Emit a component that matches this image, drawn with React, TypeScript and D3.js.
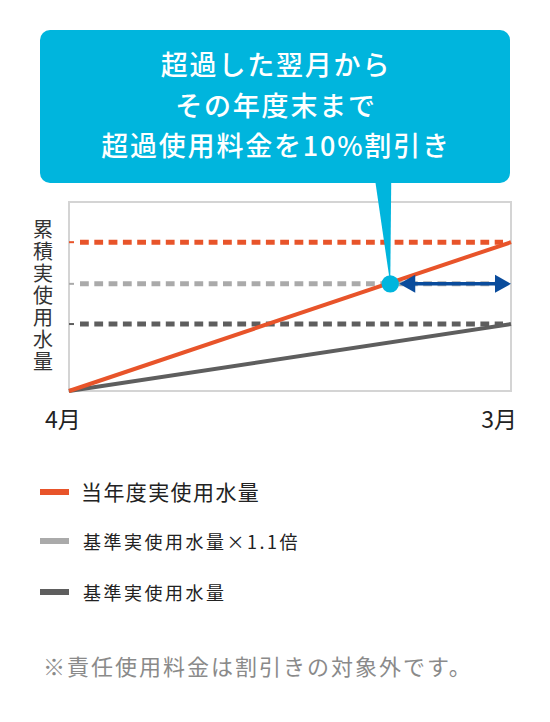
import { useRef, useEffect } from 'react';
import * as d3 from 'd3';

// fiscal year runs April -> March, index is months elapsed
const periodLabels = ['4月', '3月'];
const periodIndex = [0, 11];
const currentUsage = [0, 100];
const baseUsage = [0, 45];

const levelNames = ['当年度実使用水量', '基準実使用水量×1.1倍', '基準実使用水量'];
const levelValues = [100, 72, 45];
const levelColors = ['#e8542a', '#aaaaaa', '#5e5e5e'];

const yMax = 127;
const yTitle = '累積実使用水量';
const calloutLines = ['超過した翌月から', 'その年度末まで', '超過使用料金を10%割引き'];
const footnote = '※責任使用料金は割引きの対象外です。';

const FONT = "'Noto Sans CJK JP', 'Noto Sans', sans-serif";

const App = () => {
  const svgRef = useRef<SVGSVGElement>(null);

  useEffect(() => {
    if (!svgRef.current) return;

    const width = 550;
    const height = 722;
    const plotLeft = 69;
    const plotRight = 511;
    const plotTop = 202;
    const plotBottom = 391;

    const svg = d3
      .select(svgRef.current)
      .attr('width', width)
      .attr('height', height)
      .attr('viewBox', [0, 0, width, height])
      .style('font-family', FONT);

    svg.selectAll('*').remove();

    const xScale = d3.scaleLinear().domain([0, 11]).range([plotLeft, plotRight]);
    const yScale = d3.scaleLinear().domain([0, yMax]).range([plotBottom, plotTop]);

    // frame
    svg
      .append('rect')
      .attr('x', plotLeft)
      .attr('y', plotTop)
      .attr('width', plotRight - plotLeft)
      .attr('height', plotBottom - plotTop)
      .attr('fill', 'none')
      .attr('stroke', '#d4d4d4')
      .attr('stroke-width', 2);

    // reference levels: small tick + dashed line
    levelValues.forEach((v, i) => {
      const y = yScale(v);
      svg
        .append('line')
        .attr('x1', plotLeft)
        .attr('x2', plotLeft + 5)
        .attr('y1', y)
        .attr('y2', y)
        .attr('stroke', levelColors[i])
        .attr('stroke-width', 2);
      svg
        .append('line')
        .attr('x1', plotLeft + 11)
        .attr('x2', plotRight - 8)
        .attr('y1', y)
        .attr('y2', y)
        .attr('stroke', levelColors[i])
        .attr('stroke-width', 5)
        .attr('stroke-dasharray', '8.8,5.5');
    });

    const line = d3
      .line<number>()
      .x((_, i) => xScale(periodIndex[i]))
      .y((d) => yScale(d));

    svg
      .append('path')
      .datum(baseUsage)
      .attr('d', line)
      .attr('fill', 'none')
      .attr('stroke', levelColors[2])
      .attr('stroke-width', 4);

    svg
      .append('path')
      .datum(currentUsage)
      .attr('d', line)
      .attr('fill', 'none')
      .attr('stroke', levelColors[0])
      .attr('stroke-width', 4);

    // x labels
    svg
      .append('text')
      .attr('x', xScale(periodIndex[0]) - 24)
      .attr('y', 428)
      .attr('font-size', 23)
      .attr('fill', '#222')
      .text(periodLabels[0]);
    svg
      .append('text')
      .attr('x', xScale(periodIndex[1]) + 6)
      .attr('y', 428)
      .attr('text-anchor', 'end')
      .attr('font-size', 23)
      .attr('fill', '#222')
      .text(periodLabels[1]);

    // vertical y title
    svg
      .append('text')
      .attr('x', 43)
      .attr('y', 219)
      .style('writing-mode', 'vertical-rl')
      .attr('font-size', 20)
      .attr('letter-spacing', 2)
      .attr('fill', '#333')
      .text(yTitle);

    // callout
    const hit = (levelValues[1] / currentUsage[1]) * periodIndex[1];
    const hx = xScale(hit) + 3;
    const hy = yScale(levelValues[1]);

    svg
      .append('rect')
      .attr('x', 40)
      .attr('y', 30)
      .attr('width', 470)
      .attr('height', 153)
      .attr('rx', 10)
      .attr('fill', '#00b5dd');
    svg
      .append('path')
      .attr('d', `M${hx - 15},181 L${hx + 1},181 L${hx},${hy} Z`)
      .attr('fill', '#00b5dd');

    svg
      .append('g')
      .selectAll('text')
      .data(calloutLines)
      .enter()
      .append('text')
      .attr('x', 276)
      .attr('y', (_, i) => 75 + i * 40.5)
      .attr('text-anchor', 'middle')
      .attr('font-size', 27)
      .attr('font-weight', 500)
      .attr('letter-spacing', 1.8)
      .attr('fill', '#fff')
      .text((d) => d);

    // duration arrow
    const arrowColor = '#0a4c9c';
    const ax1 = hx + 9;
    const ax2 = plotRight;
    svg
      .append('line')
      .attr('x1', ax1 + 10)
      .attr('x2', ax2 - 10)
      .attr('y1', hy)
      .attr('y2', hy)
      .attr('stroke', arrowColor)
      .attr('stroke-width', 3.5);
    svg
      .append('path')
      .attr('d', `M${ax1},${hy} L${ax1 + 16},${hy - 9} L${ax1 + 16},${hy + 9} Z`)
      .attr('fill', arrowColor);
    svg
      .append('path')
      .attr('d', `M${ax2},${hy} L${ax2 - 16},${hy - 9} L${ax2 - 16},${hy + 9} Z`)
      .attr('fill', arrowColor);

    svg
      .append('circle')
      .attr('cx', hx)
      .attr('cy', hy)
      .attr('r', 8.7)
      .attr('fill', '#00b5dd');

    // legend
    const legendY = [492, 541, 592];
    const legend = svg
      .append('g')
      .selectAll('g')
      .data(levelNames)
      .enter()
      .append('g')
      .attr('transform', (_, i) => `translate(0,${legendY[i]})`);

    legend
      .append('rect')
      .attr('x', 40)
      .attr('y', -3)
      .attr('width', 29)
      .attr('height', 6)
      .attr('fill', (_, i) => levelColors[i]);

    legend
      .append('text')
      .attr('x', (_, i) => (i === 0 ? 81 : 83))
      .attr('y', (_, i) => (i === 0 ? 7.5 : 8))
      .attr('font-size', (_, i) => (i === 0 ? 21 : 18))
      .attr('letter-spacing', (_, i) => (i === 0 ? 1.4 : 2.5))
      .attr('fill', '#222')
      .text((d) => d);

    svg
      .append('text')
      .attr('x', 43)
      .attr('y', 675)
      .attr('font-size', 22)
      .attr('letter-spacing', 2)
      .attr('fill', '#8a8a8a')
      .text(footnote);
  }, []);

  return (
    <svg ref={svgRef} style={{ position: 'absolute', left: 0, top: 0 }}></svg>
  );
};

export default App;
